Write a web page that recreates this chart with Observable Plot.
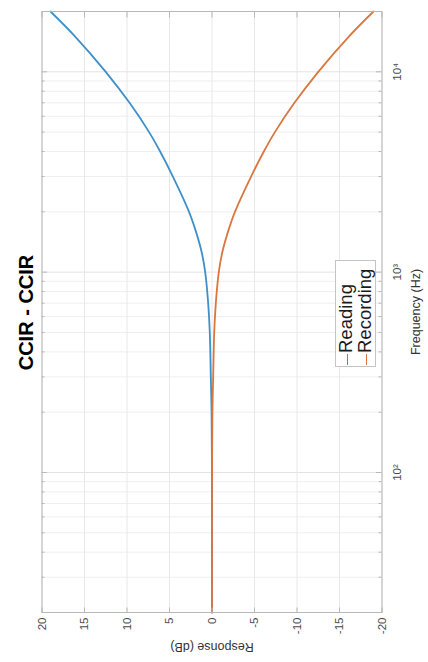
<!DOCTYPE html>
<html>
<head>
<meta charset="utf-8">
<script src="https://cdn.jsdelivr.net/npm/d3@7"></script>
<script src="https://cdn.jsdelivr.net/npm/@observablehq/plot@0.6"></script>
<style>
  html, body { margin: 0; padding: 0; background: #ffffff; overflow: hidden; }
  #page {
    position: absolute; left: 0; top: 0; width: 662px; height: 428px;
    transform-origin: 0 0; transform: translate(0px, 662px) rotate(-90deg);
    font-family: "Liberation Sans", Arial, sans-serif; background: #ffffff;
  }
  #chart { position: absolute; left: 0; top: 0; }
  #title {
    position: absolute; left: 49px; width: 601px; top: 13px; text-align: center;
    font-family: "Liberation Sans", Arial, sans-serif; font-weight: bold; font-size: 20px; line-height: 26px; color: #000;
  }
  #legend {
    position: absolute; left: 295px; top: 335px; width: 107px; height: 41px; box-sizing: border-box;
    border: 1px solid #c4c4c4; background: #fff; padding-top: 0px;
    font-family: "Liberation Sans", Arial, sans-serif; font-size: 18.5px; color: #1a1a1a;
  }
  .row { height: 19px; line-height: 19px; white-space: nowrap; }
  .swatch { display: inline-block; width: 11px; height: 0; vertical-align: middle; margin-left: 1px; margin-right: 1px; }
</style>
</head>
<body>
<div id="page">
  <div id="chart"></div>
  <div id="title"></div>
  <div id="legend"></div>
</div>
<script>
// ---- data ----
const titleText = "CCIR - CCIR";
const seriesNames = ["Reading", "Recording"];
const seriesColors = ["#3f90ca", "#d9773f"];
const freqHz      = [20, 50, 100, 200, 300, 500, 700, 1000, 1250, 1575, 2000, 3000, 4000, 5000, 7000, 10000, 15000, 20000];
const readingDb   = [0, 0, 0.01, 0.05, 0.14, 0.26, 0.45, 0.8, 1.2, 1.85, 2.7, 4.6, 6.1, 7.4, 9.7, 12.5, 16.1, 19.0];
const recordingDb = [0, 0, -0.01, -0.05, -0.14, -0.26, -0.45, -0.8, -1.2, -1.85, -2.7, -4.6, -6.1, -7.4, -9.7, -12.5, -16.1, -19.0];
const freqMajorTicks = [100, 1000, 10000];
const freqMinorTicks = [20, 30, 40, 50, 60, 70, 80, 90, 200, 300, 400, 500, 600, 700, 800, 900, 2000, 3000, 4000, 5000, 6000, 7000, 8000, 9000, 20000];
const dbTicks = [-20, -15, -10, -5, 0, 5, 10, 15, 20];
const xLabel = "Frequency (Hz)";
const yLabel = "Response (dB)";

const sup = {"0":"⁰","1":"¹","2":"²","3":"³","4":"⁴","5":"⁵","6":"⁶","7":"⁷","8":"⁸","9":"⁹"};
const fmtPow = d => "10" + String(Math.round(Math.log10(d))).split("").map(c => sup[c]).join("");

const rows = freqHz.flatMap((f, i) => [
  {f, db: readingDb[i], s: seriesNames[0]},
  {f, db: recordingDb[i], s: seriesNames[1]}
]);

const W = 662, H = 428, mL = 49, mR = 12, mT = 41.5, mB = 46.5;
const frameW = W - mL - mR, frameH = H - mT - mB;
const tickColor = "#b8b8b8";

const chart = Plot.plot({
  width: W, height: H,
  marginLeft: mL, marginRight: mR, marginTop: mT, marginBottom: mB,
  style: {fontFamily: "Liberation Sans, Arial, sans-serif", fontSize: "11.5px", color: "#4a4a4a", background: "transparent"},
  x: {type: "log", domain: [20, 20000]},
  y: {domain: [-20, 20]},
  color: {domain: seriesNames, range: seriesColors},
  marks: [
    Plot.gridX(freqMinorTicks, {stroke: "#efefef", strokeOpacity: 1}),
    Plot.gridX(freqMajorTicks, {stroke: "#e3e3e3", strokeOpacity: 1}),
    Plot.gridY(dbTicks, {stroke: "#e8e8e8", strokeOpacity: 1}),
    Plot.line(rows, {x: "f", y: "db", stroke: "s", z: "s", curve: "catmull-rom", strokeWidth: 1.8}),
    Plot.frame({stroke: tickColor}),
    // inward ticks on all four sides
    Plot.tickX(freqMajorTicks, {x: d => d, insetTop: frameH - 5.5, stroke: tickColor}),
    Plot.tickX(freqMajorTicks, {x: d => d, insetBottom: frameH - 5.5, stroke: tickColor}),
    Plot.tickX(freqMinorTicks, {x: d => d, insetTop: frameH - 3, stroke: tickColor}),
    Plot.tickX(freqMinorTicks, {x: d => d, insetBottom: frameH - 3, stroke: tickColor}),
    Plot.tickY(dbTicks, {y: d => d, insetRight: frameW - 5.5, stroke: tickColor}),
    Plot.tickY(dbTicks, {y: d => d, insetLeft: frameW - 5.5, stroke: tickColor}),
    Plot.axisX(freqMajorTicks, {tickSize: 0, tickPadding: 11, tickFormat: fmtPow, fill: "#4a4a4a",
      label: xLabel, labelAnchor: "center", labelArrow: "none", labelOffset: 38}),
    Plot.axisY(dbTicks, {tickSize: 0, tickPadding: 5, tickFormat: d => String(d), fill: "#4a4a4a",
      label: yLabel, labelAnchor: "center", labelArrow: "none", labelOffset: 39})
  ]
});
document.getElementById("chart").appendChild(chart);
d3.select(chart).selectAll('g[aria-label="x-axis label"] text, g[aria-label="y-axis label"] text')
  .style("font-size", "12.5px").attr("fill", "#333");

document.getElementById("title").textContent = titleText;
const legend = d3.select("#legend");
seriesNames.forEach((name, i) => {
  const row = legend.append("div").attr("class", "row");
  row.append("span").attr("class", "swatch").style("border-top", `1.5px solid ${seriesColors[i]}`);
  row.append("span").text(name);
});
</script>
</body>
</html>
